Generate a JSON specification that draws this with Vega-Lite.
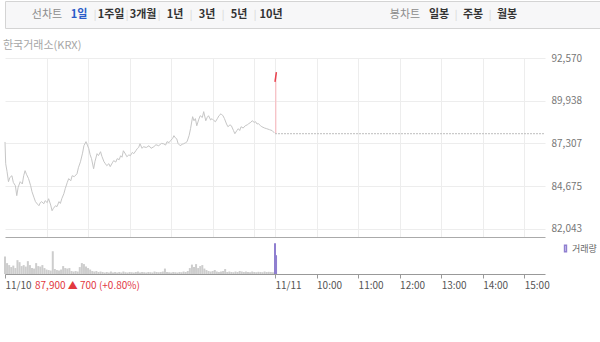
{
  "$schema": "https://vega.github.io/schema/vega-lite/v6.json",
  "padding": {"left": 3, "top": 0, "right": 0, "bottom": 0},
  "background": "white",
  "config": {
    "font": "Noto Sans CJK KR",
    "view": {"stroke": null},
    "axis": {"labelFont": "Noto Sans CJK KR"},
    "legend": {"labelFont": "Noto Sans CJK KR"},
    "title": {"font": "Noto Sans CJK KR"}
  },
  "datasets": {
    "tabs": [
      {"label": "선차트", "group": "line", "state": "title", "sep": false},
      {"label": "1일", "group": "line", "state": "active", "sep": false},
      {"label": "1주일", "group": "line", "state": "normal", "sep": true},
      {"label": "3개월", "group": "line", "state": "normal", "sep": true},
      {"label": "1년", "group": "line", "state": "normal", "sep": true},
      {"label": "3년", "group": "line", "state": "normal", "sep": true},
      {"label": "5년", "group": "line", "state": "normal", "sep": true},
      {"label": "10년", "group": "line", "state": "normal", "sep": true},
      {"label": "봉차트", "group": "candle", "state": "title", "sep": false},
      {"label": "일봉", "group": "candle", "state": "normal", "sep": false},
      {"label": "주봉", "group": "candle", "state": "normal", "sep": true},
      {"label": "월봉", "group": "candle", "state": "normal", "sep": true}
    ],
    "price1": [
      {"t": 0, "price": 87390}, {"t": 1, "price": 86050}, {"t": 3, "price": 85560}, {"t": 5, "price": 84940},
      {"t": 7, "price": 85200}, {"t": 10, "price": 85310}, {"t": 12, "price": 84900}, {"t": 15, "price": 84690},
      {"t": 17, "price": 84080}, {"t": 19, "price": 84600}, {"t": 22, "price": 84940}, {"t": 25, "price": 84800},
      {"t": 27, "price": 85310}, {"t": 29, "price": 85620}, {"t": 31, "price": 85400}, {"t": 34, "price": 85130},
      {"t": 37, "price": 84700}, {"t": 39, "price": 84320}, {"t": 42, "price": 83950}, {"t": 44, "price": 83710},
      {"t": 47, "price": 83550}, {"t": 49, "price": 83460}, {"t": 51, "price": 83650}, {"t": 53, "price": 83710},
      {"t": 56, "price": 83580}, {"t": 58, "price": 83770}, {"t": 61, "price": 83650}, {"t": 63, "price": 83890},
      {"t": 66, "price": 83500}, {"t": 68, "price": 83150}, {"t": 70, "price": 83300}, {"t": 73, "price": 83460},
      {"t": 75, "price": 83400}, {"t": 78, "price": 83710}, {"t": 80, "price": 83600}, {"t": 82, "price": 83890},
      {"t": 85, "price": 84200}, {"t": 87, "price": 84510}, {"t": 90, "price": 84900}, {"t": 92, "price": 85130},
      {"t": 95, "price": 85000}, {"t": 97, "price": 85310}, {"t": 100, "price": 85250}, {"t": 104, "price": 85430},
      {"t": 106, "price": 85800}, {"t": 109, "price": 86170}, {"t": 112, "price": 86700}, {"t": 114, "price": 87160},
      {"t": 117, "price": 87410}, {"t": 119, "price": 87200}, {"t": 121, "price": 86980}, {"t": 123, "price": 86600},
      {"t": 125, "price": 86360}, {"t": 128, "price": 85740}, {"t": 130, "price": 86200}, {"t": 133, "price": 86670},
      {"t": 135, "price": 86550}, {"t": 138, "price": 86790}, {"t": 140, "price": 86500}, {"t": 143, "price": 86170},
      {"t": 145, "price": 86050}, {"t": 147, "price": 85930}, {"t": 150, "price": 86050}, {"t": 152, "price": 85870},
      {"t": 155, "price": 86100}, {"t": 157, "price": 86240}, {"t": 160, "price": 86150}, {"t": 162, "price": 86360},
      {"t": 165, "price": 86300}, {"t": 167, "price": 86540}, {"t": 169, "price": 86450}, {"t": 171, "price": 86850},
      {"t": 174, "price": 86650}, {"t": 176, "price": 86480}, {"t": 179, "price": 86600}, {"t": 181, "price": 86540},
      {"t": 184, "price": 86750}, {"t": 186, "price": 86670}, {"t": 189, "price": 86850}, {"t": 191, "price": 86980},
      {"t": 193, "price": 87050}, {"t": 195, "price": 87280}, {"t": 198, "price": 87000}, {"t": 200, "price": 87100},
      {"t": 204, "price": 87050}, {"t": 208, "price": 87160}, {"t": 211, "price": 87000}, {"t": 215, "price": 87100},
      {"t": 218, "price": 87220}, {"t": 222, "price": 87160}, {"t": 226, "price": 87300}, {"t": 229, "price": 87280},
      {"t": 232, "price": 87200}, {"t": 234, "price": 87410}, {"t": 237, "price": 87350}, {"t": 239, "price": 87470},
      {"t": 242, "price": 87600}, {"t": 244, "price": 87780}, {"t": 246, "price": 87650}, {"t": 248, "price": 87590},
      {"t": 250, "price": 87300}, {"t": 253, "price": 87160}, {"t": 256, "price": 87250}, {"t": 258, "price": 87280},
      {"t": 261, "price": 87350}, {"t": 263, "price": 87410}, {"t": 266, "price": 87800}, {"t": 268, "price": 88210},
      {"t": 271, "price": 88950}, {"t": 273, "price": 88700}, {"t": 275, "price": 88830}, {"t": 277, "price": 88390},
      {"t": 280, "price": 88800}, {"t": 282, "price": 89010}, {"t": 285, "price": 88900}, {"t": 287, "price": 89260},
      {"t": 290, "price": 88700}, {"t": 292, "price": 88900}, {"t": 294, "price": 89010}, {"t": 297, "price": 88750},
      {"t": 299, "price": 88830}, {"t": 302, "price": 88700}, {"t": 304, "price": 88640}, {"t": 307, "price": 88850},
      {"t": 309, "price": 89010}, {"t": 312, "price": 89130}, {"t": 315, "price": 89000}, {"t": 317, "price": 88830},
      {"t": 320, "price": 88500}, {"t": 322, "price": 88330}, {"t": 325, "price": 88450}, {"t": 327, "price": 88390},
      {"t": 330, "price": 88100}, {"t": 332, "price": 87900}, {"t": 335, "price": 88100}, {"t": 337, "price": 88210},
      {"t": 339, "price": 88100}, {"t": 341, "price": 88330}, {"t": 344, "price": 88250}, {"t": 347, "price": 88390},
      {"t": 350, "price": 88450}, {"t": 352, "price": 88520}, {"t": 355, "price": 88600}, {"t": 357, "price": 88700},
      {"t": 360, "price": 88600}, {"t": 362, "price": 88640}, {"t": 364, "price": 88500}, {"t": 366, "price": 88520},
      {"t": 369, "price": 88400}, {"t": 371, "price": 88330}, {"t": 375, "price": 88250}, {"t": 378, "price": 88210},
      {"t": 382, "price": 88150}, {"t": 386, "price": 88090}, {"t": 389, "price": 87950}
    ],
    "price2": [
      {"t": 390, "price": 91100}, {"t": 392, "price": 91700}
    ],
    "refline": [
      {"t0": 390, "t1": 780, "ref": 87900}
    ],
    "pricetext": [
      {"t": 0, "v0": 0, "label": "87,900 ▲ 700 (+0.80%)"}
    ],
    "vol": [
      {"t": 0, "vol": 177, "day": "11/10"}, {"t": 3, "vol": 110, "day": "11/10"}, {"t": 6, "vol": 90, "day": "11/10"},
      {"t": 9, "vol": 70, "day": "11/10"}, {"t": 12, "vol": 85, "day": "11/10"}, {"t": 15, "vol": 60, "day": "11/10"},
      {"t": 18, "vol": 140, "day": "11/10"}, {"t": 21, "vol": 120, "day": "11/10"}, {"t": 24, "vol": 80, "day": "11/10"},
      {"t": 27, "vol": 90, "day": "11/10"}, {"t": 30, "vol": 75, "day": "11/10"}, {"t": 33, "vol": 130, "day": "11/10"},
      {"t": 36, "vol": 90, "day": "11/10"}, {"t": 39, "vol": 60, "day": "11/10"}, {"t": 42, "vol": 55, "day": "11/10"},
      {"t": 45, "vol": 110, "day": "11/10"}, {"t": 48, "vol": 80, "day": "11/10"}, {"t": 51, "vol": 75, "day": "11/10"},
      {"t": 54, "vol": 90, "day": "11/10"}, {"t": 57, "vol": 60, "day": "11/10"}, {"t": 60, "vol": 45, "day": "11/10"},
      {"t": 63, "vol": 40, "day": "11/10"}, {"t": 66, "vol": 35, "day": "11/10"}, {"t": 69, "vol": 230, "day": "11/10"},
      {"t": 72, "vol": 50, "day": "11/10"}, {"t": 75, "vol": 40, "day": "11/10"}, {"t": 78, "vol": 35, "day": "11/10"},
      {"t": 81, "vol": 45, "day": "11/10"}, {"t": 84, "vol": 80, "day": "11/10"}, {"t": 87, "vol": 60, "day": "11/10"},
      {"t": 90, "vol": 55, "day": "11/10"}, {"t": 93, "vol": 60, "day": "11/10"}, {"t": 96, "vol": 30, "day": "11/10"},
      {"t": 99, "vol": 25, "day": "11/10"}, {"t": 102, "vol": 30, "day": "11/10"}, {"t": 105, "vol": 25, "day": "11/10"},
      {"t": 108, "vol": 70, "day": "11/10"}, {"t": 111, "vol": 110, "day": "11/10"}, {"t": 114, "vol": 100, "day": "11/10"},
      {"t": 117, "vol": 75, "day": "11/10"}, {"t": 120, "vol": 60, "day": "11/10"}, {"t": 123, "vol": 45, "day": "11/10"},
      {"t": 126, "vol": 30, "day": "11/10"}, {"t": 129, "vol": 25, "day": "11/10"}, {"t": 132, "vol": 30, "day": "11/10"},
      {"t": 135, "vol": 20, "day": "11/10"}, {"t": 138, "vol": 25, "day": "11/10"}, {"t": 141, "vol": 20, "day": "11/10"},
      {"t": 144, "vol": 15, "day": "11/10"}, {"t": 147, "vol": 20, "day": "11/10"}, {"t": 150, "vol": 15, "day": "11/10"},
      {"t": 153, "vol": 25, "day": "11/10"}, {"t": 156, "vol": 15, "day": "11/10"}, {"t": 159, "vol": 20, "day": "11/10"},
      {"t": 162, "vol": 15, "day": "11/10"}, {"t": 165, "vol": 20, "day": "11/10"}, {"t": 168, "vol": 15, "day": "11/10"},
      {"t": 171, "vol": 25, "day": "11/10"}, {"t": 174, "vol": 18, "day": "11/10"}, {"t": 177, "vol": 15, "day": "11/10"},
      {"t": 180, "vol": 20, "day": "11/10"}, {"t": 183, "vol": 18, "day": "11/10"}, {"t": 186, "vol": 15, "day": "11/10"},
      {"t": 189, "vol": 20, "day": "11/10"}, {"t": 192, "vol": 25, "day": "11/10"}, {"t": 195, "vol": 15, "day": "11/10"},
      {"t": 198, "vol": 20, "day": "11/10"}, {"t": 201, "vol": 18, "day": "11/10"}, {"t": 204, "vol": 15, "day": "11/10"},
      {"t": 207, "vol": 20, "day": "11/10"}, {"t": 210, "vol": 18, "day": "11/10"}, {"t": 213, "vol": 15, "day": "11/10"},
      {"t": 216, "vol": 25, "day": "11/10"}, {"t": 219, "vol": 20, "day": "11/10"}, {"t": 222, "vol": 18, "day": "11/10"},
      {"t": 225, "vol": 20, "day": "11/10"}, {"t": 228, "vol": 25, "day": "11/10"}, {"t": 231, "vol": 55, "day": "11/10"},
      {"t": 234, "vol": 20, "day": "11/10"}, {"t": 237, "vol": 18, "day": "11/10"}, {"t": 240, "vol": 15, "day": "11/10"},
      {"t": 243, "vol": 20, "day": "11/10"}, {"t": 246, "vol": 18, "day": "11/10"}, {"t": 249, "vol": 15, "day": "11/10"},
      {"t": 252, "vol": 20, "day": "11/10"}, {"t": 255, "vol": 18, "day": "11/10"}, {"t": 258, "vol": 25, "day": "11/10"},
      {"t": 261, "vol": 20, "day": "11/10"}, {"t": 264, "vol": 30, "day": "11/10"}, {"t": 267, "vol": 60, "day": "11/10"},
      {"t": 270, "vol": 95, "day": "11/10"}, {"t": 273, "vol": 70, "day": "11/10"}, {"t": 276, "vol": 100, "day": "11/10"},
      {"t": 279, "vol": 60, "day": "11/10"}, {"t": 282, "vol": 80, "day": "11/10"}, {"t": 285, "vol": 90, "day": "11/10"},
      {"t": 288, "vol": 55, "day": "11/10"}, {"t": 291, "vol": 40, "day": "11/10"}, {"t": 294, "vol": 30, "day": "11/10"},
      {"t": 297, "vol": 25, "day": "11/10"}, {"t": 300, "vol": 30, "day": "11/10"}, {"t": 303, "vol": 40, "day": "11/10"},
      {"t": 306, "vol": 25, "day": "11/10"}, {"t": 309, "vol": 20, "day": "11/10"}, {"t": 312, "vol": 25, "day": "11/10"},
      {"t": 315, "vol": 30, "day": "11/10"}, {"t": 318, "vol": 50, "day": "11/10"}, {"t": 321, "vol": 20, "day": "11/10"},
      {"t": 324, "vol": 25, "day": "11/10"}, {"t": 327, "vol": 20, "day": "11/10"}, {"t": 330, "vol": 18, "day": "11/10"},
      {"t": 333, "vol": 25, "day": "11/10"}, {"t": 336, "vol": 20, "day": "11/10"}, {"t": 339, "vol": 30, "day": "11/10"},
      {"t": 342, "vol": 25, "day": "11/10"}, {"t": 345, "vol": 20, "day": "11/10"}, {"t": 348, "vol": 25, "day": "11/10"},
      {"t": 351, "vol": 20, "day": "11/10"}, {"t": 354, "vol": 18, "day": "11/10"}, {"t": 357, "vol": 25, "day": "11/10"},
      {"t": 360, "vol": 20, "day": "11/10"}, {"t": 363, "vol": 18, "day": "11/10"}, {"t": 366, "vol": 22, "day": "11/10"},
      {"t": 369, "vol": 20, "day": "11/10"}, {"t": 372, "vol": 18, "day": "11/10"}, {"t": 375, "vol": 25, "day": "11/10"},
      {"t": 378, "vol": 20, "day": "11/10"}, {"t": 381, "vol": 22, "day": "11/10"}, {"t": 384, "vol": 20, "day": "11/10"},
      {"t": 387, "vol": 18, "day": "11/10"},
      {"t": 390, "vol": 310, "day": "11/11"}, {"t": 391.5, "vol": 190, "day": "11/11"}
    ]
  },
  "spacing": 10,
  "resolve": {"scale": {"color": "independent"}, "legend": {"color": "independent"}},
  "vconcat": [
    {
      "width": 596,
      "height": 27,
      "view": {"fill": "#f7f7f8", "stroke": "#d4d4d4"},
      "data": {"name": "tabs"},
      "resolve": {"scale": {"x": "independent"}},
      "layer": [
        {
          "transform": [{"filter": "datum.group === 'line' && datum.state !== 'title'"}],
          "mark": {"type": "text", "fontSize": 11, "fontWeight": "bold"},
          "encoding": {
            "x": {"field": "label", "type": "nominal", "axis": null,
              "scale": {"type": "point", "domain": ["a0", "선차트", "1일", "1주일", "3개월", "1년", "3년", "5년", "10년", "a1", "a2", "a3", "a4", "a5", "a6", "a7", "a8", "a9", "a10"], "padding": 0.3125}},
            "text": {"field": "label"},
            "color": {"condition": {"test": "datum.state === 'active'", "value": "#2b5cc8"}, "value": "#333333"}
          }
        },
        {
          "transform": [{"filter": "datum.group === 'line' && datum.state === 'title'"}],
          "mark": {"type": "text", "fontSize": 11, "color": "#8c8c8c"},
          "encoding": {
            "x": {"field": "label", "type": "nominal", "axis": null,
              "scale": {"type": "point", "domain": ["a0", "선차트", "1일", "1주일", "3개월", "1년", "3년", "5년", "10년", "a1", "a2", "a3", "a4", "a5", "a6", "a7", "a8", "a9", "a10"], "padding": 0.3125}},
            "text": {"field": "label"}
          }
        },
        {
          "transform": [{"filter": "datum.group === 'line' && datum.sep"}],
          "mark": {"type": "text", "fontSize": 10, "color": "#d6d6d6", "dx": -16},
          "encoding": {
            "x": {"field": "label", "type": "nominal", "axis": null,
              "scale": {"type": "point", "domain": ["a0", "선차트", "1일", "1주일", "3개월", "1년", "3년", "5년", "10년", "a1", "a2", "a3", "a4", "a5", "a6", "a7", "a8", "a9", "a10"], "padding": 0.3125}},
            "text": {"value": "|"}
          }
        },
        {
          "transform": [{"filter": "datum.group === 'candle' && datum.state !== 'title'"}],
          "mark": {"type": "text", "fontSize": 11, "fontWeight": "bold", "color": "#333333"},
          "encoding": {
            "x": {"field": "label", "type": "nominal", "axis": null,
              "scale": {"type": "point", "domain": ["b1", "b2", "b3", "b4", "b5", "b6", "b7", "b8", "b9", "b10", "b11", "봉차트", "일봉", "주봉", "월봉", "c1", "c2"], "padding": 0.76}},
            "text": {"field": "label"}
          }
        },
        {
          "transform": [{"filter": "datum.group === 'candle' && datum.state === 'title'"}],
          "mark": {"type": "text", "fontSize": 11, "color": "#8c8c8c"},
          "encoding": {
            "x": {"field": "label", "type": "nominal", "axis": null,
              "scale": {"type": "point", "domain": ["b1", "b2", "b3", "b4", "b5", "b6", "b7", "b8", "b9", "b10", "b11", "봉차트", "일봉", "주봉", "월봉", "c1", "c2"], "padding": 0.76}},
            "text": {"field": "label"}
          }
        },
        {
          "transform": [{"filter": "datum.group === 'candle' && datum.sep"}],
          "mark": {"type": "text", "fontSize": 10, "color": "#d6d6d6", "dx": -17},
          "encoding": {
            "x": {"field": "label", "type": "nominal", "axis": null,
              "scale": {"type": "point", "domain": ["b1", "b2", "b3", "b4", "b5", "b6", "b7", "b8", "b9", "b10", "b11", "봉차트", "일봉", "주봉", "월봉", "c1", "c2"], "padding": 0.76}},
            "text": {"value": "|"}
          }
        }
      ]
    },
    {
      "spacing": 0,
      "resolve": {"scale": {"color": "independent"}, "legend": {"color": "independent"}},
      "vconcat": [
        {
          "width": 540,
          "height": 179,
          "title": {"text": "한국거래소(KRX)", "anchor": "start", "fontSize": 11, "fontWeight": "normal", "color": "#a6a6a6", "offset": 2.5},
          "layer": [
            {
              "data": {"name": "price1"},
              "mark": {"type": "line", "color": "#c6c6c6", "strokeWidth": 1},
              "encoding": {
                "x": {"field": "t", "type": "quantitative", "scale": {"domain": [0, 780], "nice": false, "zero": false},
                  "axis": {"values": [60, 120, 180, 240, 300, 360, 390, 450, 510, 570, 630, 690, 750], "labels": false, "ticks": false, "title": null, "grid": true, "gridColor": "#ededed", "domainColor": "#aaaaaa"}},
                "y": {"field": "price", "type": "quantitative", "scale": {"domain": [81530, 92570], "nice": false, "zero": false},
                  "axis": {"orient": "right", "values": [82043, 84675, 87307, 89938, 92570], "format": ",d", "ticks": false, "domain": false, "title": null, "gridColor": "#ededed", "labelColor": "#777777", "labelFontSize": 10, "labelPadding": 6}}
              }
            },
            {
              "data": {"name": "price2"},
              "mark": {"type": "area", "color": "#f6c4c8"},
              "encoding": {
                "x": {"field": "t", "type": "quantitative"},
                "y": {"field": "price", "type": "quantitative"},
                "y2": {"datum": 87900}
              }
            },
            {
              "data": {"name": "refline"},
              "mark": {"type": "rule", "color": "#bdbdbd", "strokeDash": [2, 1], "strokeWidth": 1},
              "encoding": {
                "x": {"field": "t0", "type": "quantitative"},
                "x2": {"field": "t1"},
                "y": {"field": "ref", "type": "quantitative"}
              }
            },
            {
              "data": {"name": "price2"},
              "mark": {"type": "line", "color": "#e8414d", "strokeWidth": 1.5},
              "encoding": {
                "x": {"field": "t", "type": "quantitative"},
                "y": {"field": "price", "type": "quantitative"}
              }
            }
          ]
        },
        {
          "width": 540,
          "height": 37,
          "layer": [
            {
              "data": {"name": "vol"},
              "mark": {"type": "rule", "strokeWidth": 2},
              "encoding": {
                "x": {"field": "t", "type": "quantitative", "scale": {"domain": [0, 780], "nice": false, "zero": false},
                  "axis": {"values": [0, 390, 450, 510, 570, 630, 690, 750],
                    "labelExpr": "datum.value == 0 ? '11/10' : datum.value == 390 ? '11/11' : (9 + floor((datum.value - 390) / 60)) + ':00'",
                    "labelAlign": "left", "labelFlush": false, "tickSize": 4, "tickColor": "#999999", "domainColor": "#999999",
                    "labelColor": "#555555", "labelFontSize": 10, "labelPadding": 2, "grid": false, "title": null}},
                "y": {"field": "vol", "type": "quantitative", "scale": {"domain": [0, 374], "nice": false}, "axis": null},
                "y2": {"datum": 0},
                "color": {"field": "day", "type": "nominal",
                  "scale": {"domain": ["11/10", "11/11"], "range": ["#cdcdcd", "#8f7fd0"]},
                  "legend": {"values": ["11/11"], "labelExpr": "'거래량'", "title": null, "orient": "right", "offset": 9,
                    "symbolType": "M-0.3,-1H0.3V1H-0.3Z", "symbolSize": 40, "labelFontSize": 9, "labelColor": "#666666", "padding": 7, "labelOffset": 2}}
              }
            },
            {
              "data": {"name": "pricetext"},
              "mark": {"type": "text", "align": "left", "baseline": "middle", "dx": 30, "dy": 12, "fontSize": 10, "color": "#e2393f"},
              "encoding": {
                "x": {"field": "t", "type": "quantitative"},
                "y": {"field": "v0", "type": "quantitative"},
                "text": {"field": "label"}
              }
            }
          ]
        }
      ]
    }
  ]
}
